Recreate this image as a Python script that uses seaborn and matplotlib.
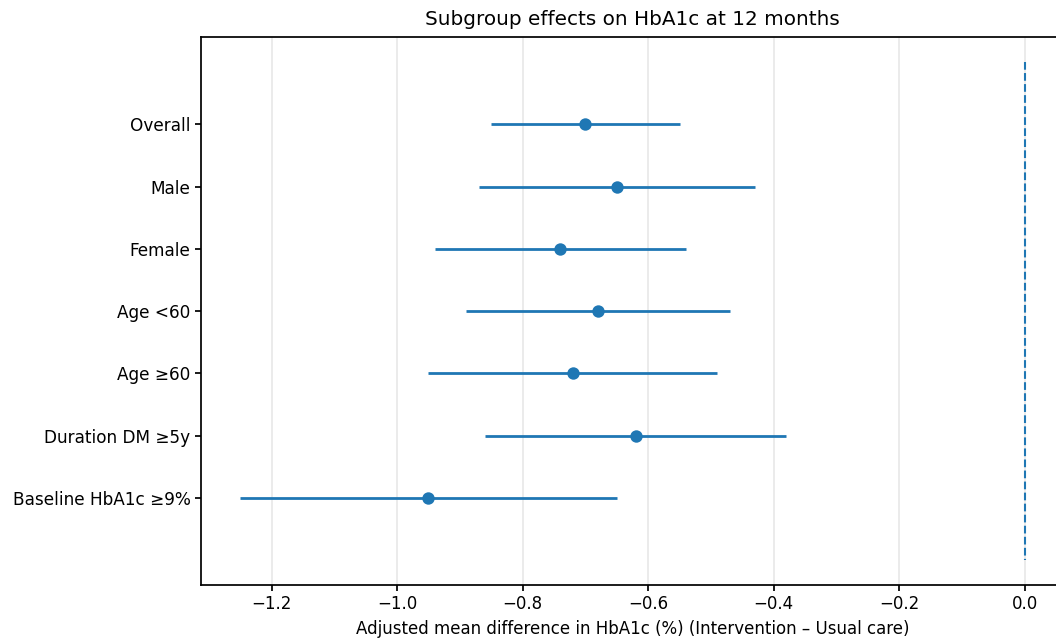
import numpy as np
import matplotlib
matplotlib.use("Agg")
import matplotlib.pyplot as plt
import seaborn as sns

# -------- Data --------
subgroups = ["Overall", "Male", "Female", "Age <60", "Age \u226560",
             "Duration DM \u22655y", "Baseline HbA1c \u22659%"]
estimate = [-0.70, -0.65, -0.74, -0.68, -0.72, -0.62, -0.95]
ci_low = [-0.85, -0.87, -0.94, -0.89, -0.95, -0.86, -1.25]
ci_high = [-0.55, -0.43, -0.54, -0.47, -0.49, -0.38, -0.65]

# -------- Style --------
sns.set_theme(style="ticks", rc={
    "axes.edgecolor": "black",
    "text.color": "black",
    "axes.labelcolor": "black",
    "xtick.color": "black",
    "ytick.color": "black",
})
plt.rcParams["font.family"] = ["DejaVu Sans"]
plt.rcParams["font.size"] = 12

blue = sns.color_palette("tab10")[0]
ypos = np.arange(len(subgroups))

fig = plt.figure(figsize=(10.56, 6.39), dpi=100)
# right edge of the axes sits just outside the image, as in the reference crop
ax = fig.add_axes([0.1903, 0.0845, 0.8173, 0.8575])

# -------- Forest plot --------
ax.hlines(ypos, ci_low, ci_high, color=blue, linewidth=2)
sns.scatterplot(x=estimate, y=ypos, ax=ax, color=blue, s=80,
                linewidth=0, zorder=3)
ax.plot([0, 0], [-1, len(subgroups)], linestyle="--", color=blue,
        linewidth=1.5)

ax.set_yticks(ypos)
ax.set_yticklabels(subgroups)
ax.invert_yaxis()
ax.set_xticks(np.round(np.arange(-1.2, 0.01, 0.2), 1))
ax.tick_params(axis="both", labelsize=12, length=4, color="black")
ax.tick_params(axis="y", labelsize=12.2)

ax.grid(axis="x", color="#b0b0b0", alpha=0.3, linewidth=1.2)
ax.set_axisbelow(True)

ax.set_xlabel("Adjusted mean difference in HbA1c (%) (Intervention \u2013 Usual care)",
              fontsize=12, labelpad=5)
ax.set_title("Subgroup effects on HbA1c at 12 months", fontsize=14.4, pad=9)

plt.savefig("out.png", dpi=100)
plt.close()
